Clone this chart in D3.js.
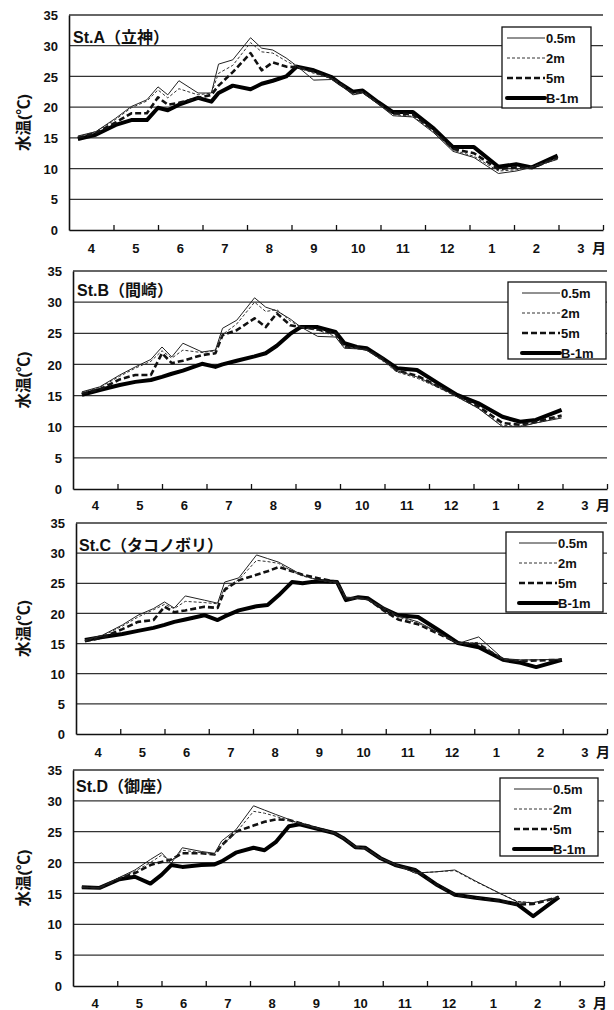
<!DOCTYPE html>
<html>
<head>
<meta charset="utf-8">
<script src="https://cdn.jsdelivr.net/npm/d3@7"></script>
<style>
  body { margin: 0; background: #fff; }
  svg { display: block; }
  .num { font-family: "Liberation Sans", Arial, sans-serif; font-weight: bold; fill: #111; }
  .jp { font-family: "Liberation Sans", "Noto Sans CJK JP", sans-serif; font-weight: bold; fill: #111; }
</style>
</head>
<body>
<div id="chart"></div>
<script>
// month labels (fiscal year, April -> March)
var months = ["4", "5", "6", "7", "8", "9", "10", "11", "12", "1", "2", "3"];
var yTicks = [0, 5, 10, 15, 20, 25, 30, 35];
var depths = ["0.5m", "2m", "5m", "B-1m"];
var stationNames = ["St.A（立神）", "St.B（間崎）", "St.C（タコノボリ）", "St.D（御座）"];

// survey dates, in months counted from 1 April
var obsPos = [0.2, 0.6, 1.05, 1.4, 1.75, 2.0, 2.22, 2.47, 2.9, 3.2, 3.36, 3.68, 4.08, 4.33, 4.58, 4.88,
              5.12, 5.5, 5.9, 6.1, 6.38, 6.6, 6.95, 7.28, 7.73, 8.2, 8.63, 9.1, 9.65, 10.05, 10.4, 10.98];

// St.A
var a05 = [15.3, 16.0, 18.2, 20.1, 21.2, 23.3, 22.0, 24.3, 22.3, 22.3, 27.0, 27.7, 31.3, 29.6, 29.3, 28.0,
           26.7, 24.4, 24.5, 23.6, 22.0, 22.3, 20.5, 18.6, 18.4, 15.8, 12.8, 11.8, 9.2, 9.6, 10.2, 11.5];
var a2  = [15.2, 16.0, 18.0, 19.9, 21.0, 22.8, 21.5, 23.0, 22.0, 22.3, 25.5, 26.8, 30.5, 29.0, 28.8, 27.5,
           26.6, 25.5, 24.7, 23.8, 22.2, 22.5, 20.6, 18.8, 18.5, 16.0, 13.0, 12.0, 9.6, 9.8, 10.3, 11.6];
var a5  = [15.0, 15.8, 17.5, 19.0, 19.0, 21.6, 20.4, 20.7, 21.5, 22.0, 23.5, 25.7, 28.8, 26.0, 27.3, 26.6,
           26.5, 25.8, 24.8, 23.8, 22.3, 22.5, 20.7, 19.0, 18.8, 16.2, 13.2, 12.5, 9.9, 10.2, 10.1, 11.8];
var aB1 = [14.8, 15.5, 17.1, 17.9, 17.9, 19.9, 19.5, 20.4, 21.5, 20.9, 22.3, 23.5, 22.9, 23.8, 24.3, 25.0,
           26.6, 26.0, 24.9, 23.8, 22.5, 22.7, 20.8, 19.2, 19.2, 16.5, 13.5, 13.5, 10.3, 10.7, 10.2, 12.1];

// St.B
var b05 = [15.6, 16.4, 18.3, 19.6, 20.8, 22.8, 21.2, 23.4, 22.0, 22.3, 25.8, 27.1, 30.7, 29.2, 28.6, 27.3,
           26.0, 24.5, 24.4, 22.6, 22.5, 22.3, 20.8, 19.0, 18.0, 16.5, 14.8, 13.0, 10.0, 10.0, 10.6, 11.4];
var b2  = [15.5, 16.3, 18.1, 19.4, 20.5, 22.2, 21.0, 22.3, 21.9, 22.2, 24.8, 26.5, 30.0, 28.5, 28.8, 27.0,
           26.0, 25.5, 24.5, 22.8, 22.6, 22.3, 20.6, 18.8, 17.8, 16.3, 14.8, 13.0, 10.2, 10.1, 10.6, 11.6];
var b5  = [15.3, 16.0, 17.6, 18.3, 18.3, 21.8, 20.2, 20.6, 21.5, 21.8, 24.7, 25.5, 27.4, 26.0, 28.2, 26.3,
           26.0, 25.6, 25.0, 22.8, 22.7, 22.4, 21.0, 19.0, 18.2, 16.5, 15.0, 13.3, 10.6, 10.3, 10.8, 11.8];
var bB1 = [15.1, 15.9, 16.7, 17.2, 17.5, 18.0, 18.5, 19.0, 20.1, 19.6, 20.0, 20.6, 21.3, 21.8, 23.0, 24.9,
           26.0, 26.0, 25.2, 23.4, 22.8, 22.6, 21.0, 19.4, 19.1, 17.0, 15.1, 13.8, 11.6, 10.8, 11.1, 12.7];

// St.C
var c05 = [15.6, 16.4, 18.1, 19.7, 20.8, 21.9, 20.9, 22.9, 22.2, 21.7, 25.2, 25.9, 29.7, 29.1, 28.5, 27.3,
           26.3, 25.5, 25.2, 22.7, 22.6, 22.3, 21.0, 19.6, 18.6, 16.8, 15.0, 16.1, 12.5, 12.3, 12.3, 12.4];
var c2  = [15.5, 16.3, 17.9, 19.4, 20.6, 21.5, 20.8, 22.0, 21.8, 21.6, 24.2, 25.6, 28.8, 28.6, 28.3, 27.0,
           26.2, 25.5, 25.0, 22.6, 22.5, 22.2, 20.8, 19.4, 18.4, 16.7, 15.0, 15.2, 12.4, 12.2, 12.3, 12.4];
var c5  = [15.4, 16.0, 17.4, 18.6, 18.9, 21.1, 20.2, 20.5, 21.1, 20.9, 23.9, 25.5, 26.4, 27.0, 27.7, 27.0,
           26.4, 25.8, 25.2, 22.3, 22.6, 22.4, 20.5, 19.0, 18.2, 16.6, 15.1, 14.9, 12.3, 12.1, 12.2, 12.3];
var cB1 = [15.6, 16.1, 16.6, 17.1, 17.6, 18.1, 18.6, 19.0, 19.7, 18.9, 19.5, 20.5, 21.2, 21.4, 23.0, 25.2,
           25.0, 25.4, 25.2, 22.2, 22.7, 22.5, 20.8, 19.7, 19.4, 17.2, 15.1, 14.4, 12.3, 11.8, 11.1, 12.3];

// St.D
var d05 = [16.0, 15.9, 17.6, 18.8, 20.5, 21.6, 19.9, 22.4, 21.8, 21.5, 23.5, 25.3, 29.2, 28.5, 27.8, 27.0,
           26.3, 25.6, 24.8, 24.0, 22.6, 22.3, 20.7, 19.7, 18.3, 18.5, 18.8, 17.0, 15.0, 13.6, 13.5, 14.4];
var d2  = [16.0, 15.9, 17.5, 18.6, 20.0, 21.2, 20.3, 22.0, 21.6, 21.3, 22.8, 24.8, 28.3, 28.0, 27.5, 26.8,
           26.4, 25.6, 24.8, 24.0, 22.6, 22.3, 20.7, 19.7, 18.3, 18.5, 18.7, 16.9, 15.0, 13.7, 13.5, 14.4];
var d5  = [16.0, 15.9, 17.4, 18.3, 19.6, 20.1, 20.5, 21.5, 21.5, 21.3, 22.8, 25.0, 26.0, 26.6, 27.0, 26.9,
           26.4, 25.6, 24.8, 24.0, 22.5, 22.4, 20.7, 19.6, 18.8, 16.5, 14.8, 14.3, 13.8, 13.2, 13.3, 14.4];
var dB1 = [16.0, 15.9, 17.3, 17.7, 16.6, 18.0, 19.6, 19.3, 19.6, 19.7, 20.2, 21.6, 22.4, 22.0, 23.3, 25.9,
           26.2, 25.5, 24.8, 24.0, 22.5, 22.4, 20.7, 19.6, 18.8, 16.5, 14.8, 14.3, 13.8, 13.2, 11.3, 14.4];

var stationSeries = [[a05, a2, a5, aB1], [b05, b2, b5, bB1], [c05, c2, c5, cB1], [d05, d2, d5, dB1]];

// page geometry of each panel
var panels = [
  {top: 15,  bottom: 230, left: 69, right: 603, tx: 73, ty: 43,  lx: 502, ly: 27,  lw: 89, lh: 81, xl: 253},
  {top: 271, bottom: 489, left: 73, right: 607, tx: 77, ty: 296, lx: 508, ly: 282, lw: 98, lh: 77, xl: 510},
  {top: 523, bottom: 734, left: 76, right: 607, tx: 79, ty: 551, lx: 506, ly: 532, lw: 97, lh: 80, xl: 757},
  {top: 770, bottom: 986, left: 73, right: 604, tx: 76, ty: 792, lx: 500, ly: 778, lw: 98, lh: 78, xl: 1008}
];

var styles = [
  {w: 1,   dash: null,  color: "#222"},
  {w: 1,   dash: "3,2", color: "#333"},
  {w: 2.6, dash: "6,3", color: "#111"},
  {w: 4,   dash: null,  color: "#000"}
];

var W = 614, H = 1010;
var svg = d3.select("#chart").append("svg").attr("width", W).attr("height", H);

panels.forEach(function(p, si) {
  var g = svg.append("g");
  var x = d3.scaleLinear().domain([0, 12]).range([p.left, p.right]);
  var y = d3.scaleLinear().domain([0, 35]).range([p.bottom, p.top]);

  // gridlines
  g.selectAll(".grid").data(yTicks.filter(function(t) { return t > 0; }))
    .enter().append("line")
    .attr("x1", p.left).attr("x2", p.right)
    .attr("y1", function(d) { return y(d); }).attr("y2", function(d) { return y(d); })
    .attr("stroke", "#333").attr("stroke-width", 1.3);

  // y axis
  var ya = g.append("g").attr("transform", "translate(" + p.left + ",0)")
    .call(d3.axisLeft(y).tickValues(yTicks).tickSize(0).tickPadding(11));
  ya.select(".domain").attr("stroke", "#111").attr("stroke-width", 1.6);
  ya.selectAll("text").attr("class", "num").style("font-size", "13px").attr("dy", "0.36em");

  // x axis, ticks point up into the plot
  var xa = g.append("g").attr("transform", "translate(0," + p.bottom + ")")
    .call(d3.axisBottom(x).tickValues(d3.range(1, 13)).tickSize(-5).tickSizeOuter(0).tickFormat(""));
  xa.select(".domain").attr("stroke", "#111").attr("stroke-width", 1.6);
  xa.selectAll(".tick line").attr("stroke", "#111").attr("stroke-width", 1.3);

  g.selectAll(".mlab").data(months).enter().append("text")
    .attr("class", "num").style("font-size", "13px")
    .attr("text-anchor", "middle")
    .attr("x", function(d, i) { return x(i + 0.5); })
    .attr("y", p.xl)
    .text(function(d) { return d; });
  g.append("text").attr("class", "jp").style("font-size", "14px")
    .attr("text-anchor", "middle").attr("x", p.right - 4).attr("y", p.xl)
    .text("月");

  // y title
  g.append("text").attr("class", "jp").style("font-size", "15.5px")
    .attr("text-anchor", "middle")
    .attr("transform", "translate(29," + (p.top + p.bottom) / 2 + ") rotate(-90)")
    .text("水温(℃)");

  // title
  g.append("text").attr("class", "jp").style("font-size", "16px")
    .attr("x", p.tx).attr("y", p.ty).text(stationNames[si]);

  // data lines, deepest first so thin lines stay on top
  var line = d3.line()
    .x(function(d) { return x(d[0]); })
    .y(function(d) { return y(d[1]); });
  var series = stationSeries[si];
  [3, 2, 1, 0].forEach(function(k) {
    var pts = obsPos.map(function(t, i) { return [t, series[k][i]]; })
      .filter(function(d) { return d[1] != null; });
    g.append("path").datum(pts)
      .attr("d", line)
      .attr("fill", "none")
      .attr("stroke", styles[k].color)
      .attr("stroke-width", styles[k].w)
      .attr("stroke-dasharray", styles[k].dash)
      .attr("stroke-linejoin", "round");
  });

  // legend
  var lg = g.append("g");
  lg.append("rect").attr("x", p.lx).attr("y", p.ly).attr("width", p.lw).attr("height", p.lh)
    .attr("fill", "#fff").attr("stroke", "#111").attr("stroke-width", 1.3);
  var textX = p.lx + p.lw - 45;
  depths.forEach(function(name, k) {
    var cy = p.ly + 11 + k * 20;
    lg.append("line")
      .attr("x1", textX - 39).attr("x2", textX - 1)
      .attr("y1", cy).attr("y2", cy)
      .attr("stroke", styles[k].color)
      .attr("stroke-width", styles[k].w)
      .attr("stroke-dasharray", styles[k].dash)
      .attr("stroke-linecap", k === 3 ? "round" : "butt");
    lg.append("text").attr("class", "num").style("font-size", "13px")
      .attr("x", textX).attr("y", cy).attr("dy", "0.36em")
      .text(name);
  });
});
</script>
</body>
</html>
